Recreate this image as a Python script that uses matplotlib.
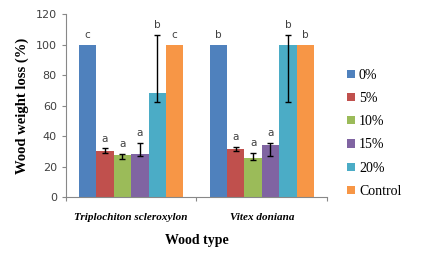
import numpy as np
import matplotlib
matplotlib.use("Agg")
import matplotlib.pyplot as plt

# data
wood_types = ["Triplochiton scleroxylon", "Vitex doniana"]
treatments = ["0%", "5%", "10%", "15%", "20%", "Control"]
triplochiton = [100, 30.5, 27.5, 28, 68.5, 100]
vitex = [100, 31.5, 25.5, 34, 100, 100]
# error bars (lower, upper); zero where no bar was drawn
tri_err_lo = [0, 1.3, 2.5, 1.0, 6.0, 0]
tri_err_hi = [0, 1.5, 1.0, 7.5, 38.0, 0]
vit_err_lo = [0, 1.5, 1.0, 7.0, 37.5, 0]
vit_err_hi = [0, 1.5, 3.5, 1.5, 6.5, 0]
tri_letters = ["c", "a", "a", "a", "b", "c"]
vit_letters = ["b", "a", "a", "a", "b", "b"]

colors = ["#4F81BD", "#C0504D", "#9BBB59", "#8064A2", "#4BACC6", "#F79646"]

fig = plt.figure(figsize=(4.45, 2.70), dpi=100)
ax = fig.add_axes([0.148, 0.270, 0.587, 0.678])

values = np.array([triplochiton, vitex])          # shape (2 groups, 6 treatments)
err_lo = np.array([tri_err_lo, vit_err_lo])
err_hi = np.array([tri_err_hi, vit_err_hi])
letters = [tri_letters, vit_letters]

x = np.arange(len(wood_types))
n = len(treatments)
width = 0.8 / n

for i in range(n):
    pos = x + (i - (n - 1) / 2) * width
    ax.bar(pos, values[:, i], width, color=colors[i], label=treatments[i], zorder=2)
    has_err = (err_lo[:, i] + err_hi[:, i]) > 0
    if has_err.any():
        ax.errorbar(pos[has_err], values[has_err, i],
                    yerr=[err_lo[has_err, i], err_hi[has_err, i]],
                    fmt="none", ecolor="black", elinewidth=1.0, capsize=2.5,
                    capthick=1.0, zorder=3)
    for g in range(len(wood_types)):
        top = values[g, i] + err_hi[g, i]
        ax.text(pos[g], top + 3, letters[g][i], ha="center", va="bottom",
                fontsize=7.5, color="#404040", family="DejaVu Sans")

ax.set_xlim(-0.5, 1.5)
ax.set_ylim(0, 120)
ax.set_yticks(range(0, 121, 20))
ax.set_xticks([-0.5, 0.5, 1.5])
ax.set_xticklabels([])
ax.tick_params(axis="y", labelsize=8, colors="#888888", labelcolor="#404040",
               length=3, width=0.8)
ax.tick_params(axis="x", colors="#888888", length=3, width=0.8)
for s in ["top", "right"]:
    ax.spines[s].set_visible(False)
for s in ["left", "bottom"]:
    ax.spines[s].set_color("#888888")
    ax.spines[s].set_linewidth(0.8)

for g, name in enumerate(wood_types):
    ax.text(x[g], -0.085, name, transform=ax.get_xaxis_transform(),
            ha="center", va="top", fontsize=8, fontweight="bold",
            fontstyle="italic", family="Liberation Serif")

ax.set_xlabel("Wood type", fontsize=10, fontweight="bold",
              family="Liberation Serif", labelpad=20)
ax.set_ylabel("Wood weight loss (%)", fontsize=10.5, fontweight="bold",
              family="Liberation Serif", labelpad=5)

leg = fig.legend(loc="upper left", bbox_to_anchor=(0.752, 0.792), frameon=False,
                 prop={"family": "Liberation Serif", "size": 10},
                 handlelength=0.55, handleheight=0.55, handletextpad=0.3,
                 labelspacing=0.74)

fig.savefig("out.png", dpi=100)
